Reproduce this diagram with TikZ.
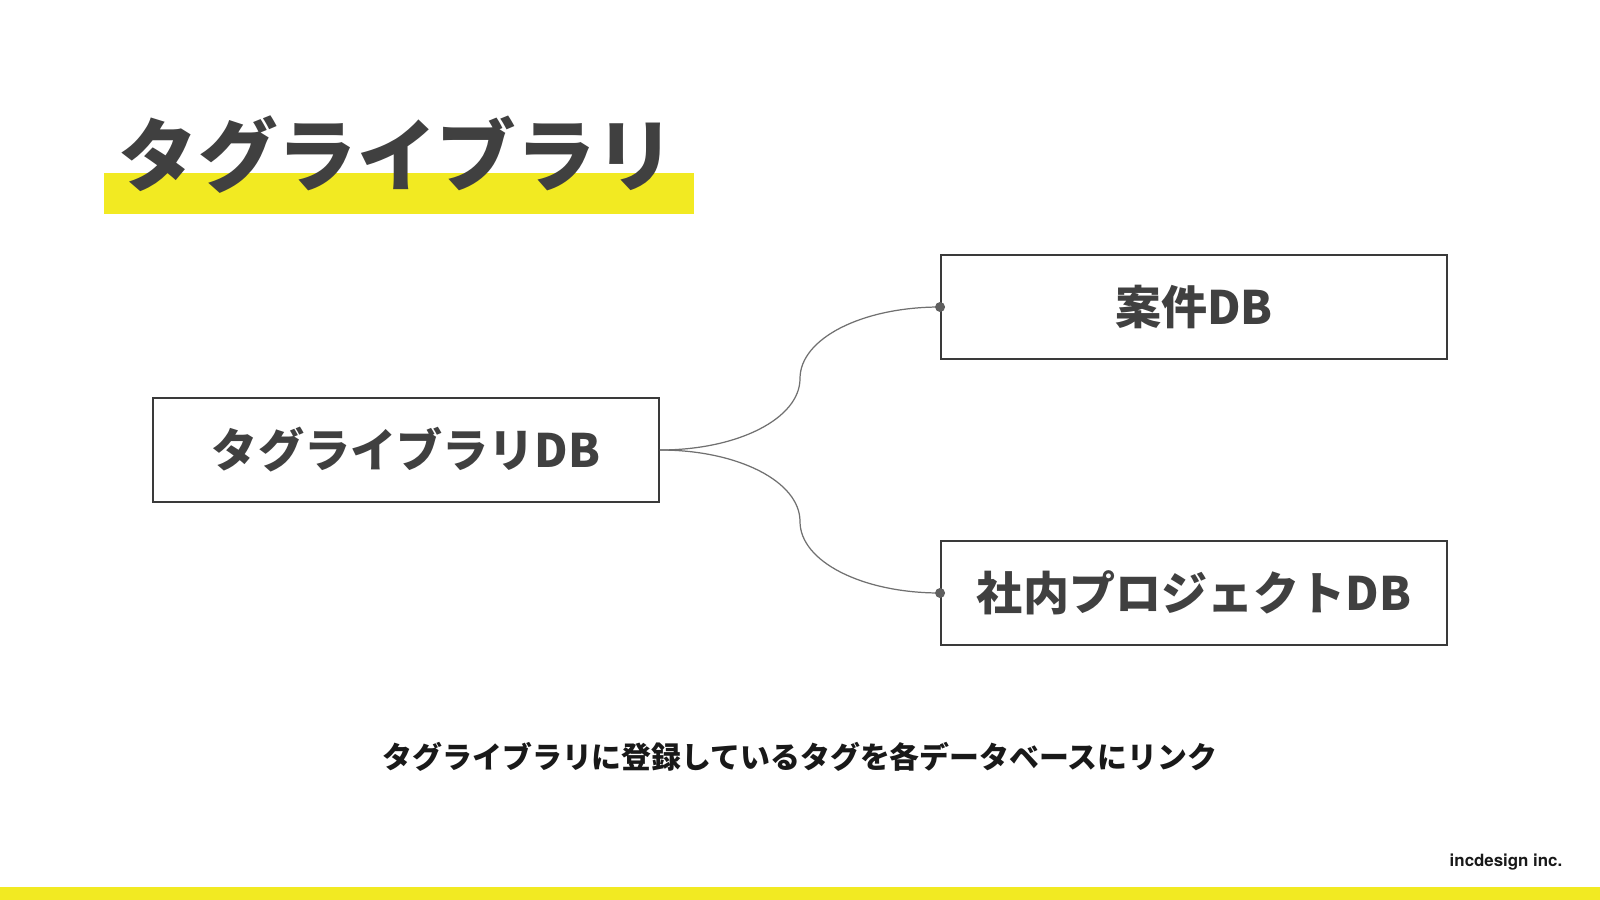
\documentclass[tikz,border=0pt]{standalone}
\usepackage{fontspec}
\usepackage{tikz}
\usepackage{xcolor}
\newfontfamily\jp{Noto Sans CJK JP}
\newfontfamily\logofont{TeX Gyre Heros}
\definecolor{ink}{HTML}{404040}
\definecolor{frame}{HTML}{3A3A3A}
\definecolor{wire}{HTML}{707070}
\definecolor{marker}{HTML}{F2EA22}

\begin{document}
\begin{tikzpicture}[x=0.01cm,y=-0.01cm]
      \useasboundingbox(0,0) rectangle (1600,900);
      \fill[white](0,0) rectangle (1600,900);
      \tikzset{DB/.style = {shape=rectangle, draw=frame, line width=0.45pt, inner sep=0pt, minimum width=5.06cm, minimum height=1.04cm, text=ink, font=\jp\bfseries\fontsize{13.1pt}{15pt}\selectfont}}
      \tikzset{E/.style = {draw=wire, line width=0.35pt}}
      \tikzset{J/.style = {fill=wire!85!black}}
      % title with marker bar
      \fill[marker](104,173) rectangle (694,214);
      \node[anchor=west,inner sep=0pt,text=ink,font=\jp\bfseries\fontsize{22.6pt}{26pt}\selectfont](title) at (118,155) {タグライブラリ};
      % databases
      \node[DB](lib) at (406,450) {タグライブラリDB};
      \node[DB](case) at (1194,307) {案件DB};
      \node[DB](proj) at (1194,593) {社内プロジェクトDB};
      \coordinate(m1) at (800,378.5);
      \coordinate(m2) at (800,521.5);
      \draw[E](lib.east) .. controls +(78,0) and +(0,40) .. (m1) .. controls +(0,-40) and +(-78,0) .. (case.west);
      \draw[E](lib.east) .. controls +(78,0) and +(0,-40) .. (m2) .. controls +(0,40) and +(-78,0) .. (proj.west);
      \fill[J](case.west) circle[radius=0.05cm];
      \fill[J](proj.west) circle[radius=0.05cm];
      % caption and footer
      \node[inner sep=0pt,text=black!90,font=\jp\bfseries\fontsize{8.5pt}{10pt}\selectfont](note) at (800,757) {タグライブラリに登録しているタグを各データベースにリンク};
      \fill[marker](0,887) rectangle (1600,900);
      \node[anchor=base east,inner sep=0pt,text=black!90,font=\logofont\bfseries\fontsize{4.8pt}{5pt}\selectfont](logo) at (1563,866) {incdesign inc.};
\end{tikzpicture}
\end{document}
